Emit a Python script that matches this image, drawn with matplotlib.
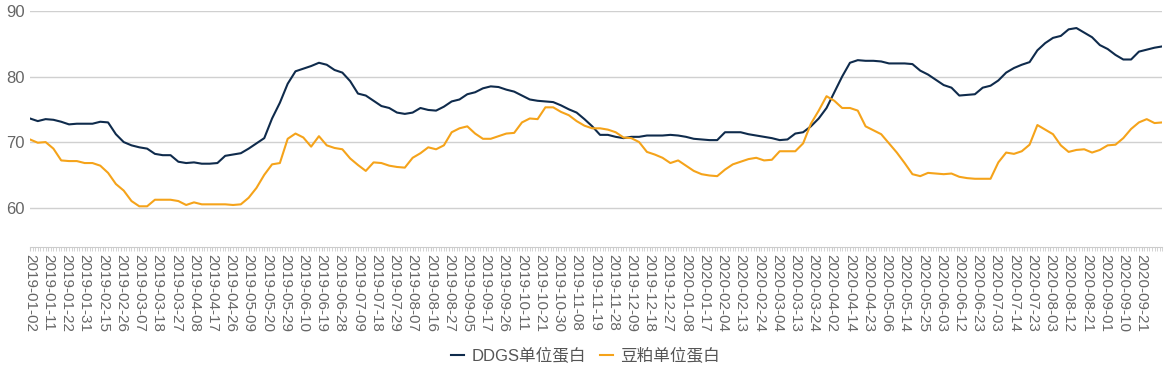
import numpy as np
import matplotlib
matplotlib.use("Agg")
import matplotlib.pyplot as plt

plt.rcParams['font.family'] = ['Liberation Sans', 'Noto Sans CJK SC', 'DejaVu Sans']

# tick labels, one every 7 trading days
tick_labels = ["2019-01-02", "2019-01-11", "2019-01-22", "2019-01-31", "2019-02-15", "2019-02-26",
               "2019-03-07", "2019-03-18", "2019-03-27", "2019-04-08", "2019-04-17", "2019-04-26",
               "2019-05-09", "2019-05-20", "2019-05-29", "2019-06-10", "2019-06-19", "2019-06-28",
               "2019-07-09", "2019-07-18", "2019-07-29", "2019-08-07", "2019-08-16", "2019-08-27",
               "2019-09-05", "2019-09-17", "2019-09-26", "2019-10-11", "2019-10-21", "2019-10-30",
               "2019-11-08", "2019-11-19", "2019-11-28", "2019-12-09", "2019-12-18", "2019-12-27",
               "2020-01-08", "2020-01-17", "2020-02-04", "2020-02-13", "2020-02-24", "2020-03-04",
               "2020-03-13", "2020-03-24", "2020-04-02", "2020-04-14", "2020-04-23", "2020-05-06",
               "2020-05-14", "2020-05-25", "2020-06-03", "2020-06-12", "2020-06-23", "2020-07-03",
               "2020-07-14", "2020-07-23", "2020-08-03", "2020-08-12", "2020-08-21", "2020-09-01",
               "2020-09-10", "2020-09-21"]
label_every = 7
n_days = 436
sample_step = 3

ddgs = [73.6, 73.2, 73.5, 73.4, 73.1, 72.7, 72.8, 72.8, 72.8, 73.1, 73.0, 71.2,
        70.0, 69.5, 69.2, 69.0, 68.2, 68.0, 68.0, 67.0, 66.8, 66.9, 66.7, 66.7,
        66.8, 67.9, 68.1, 68.3, 69.0, 69.8, 70.6, 73.6, 76.0, 78.9, 80.8, 81.2,
        81.6, 82.1, 81.8, 81.0, 80.6, 79.3, 77.4, 77.1, 76.3, 75.5, 75.2, 74.5,
        74.3, 74.5, 75.2, 74.9, 74.8, 75.4, 76.2, 76.5, 77.3, 77.6, 78.2, 78.5,
        78.4, 78.0, 77.7, 77.1, 76.5, 76.3, 76.2, 76.1, 75.6, 75.0, 74.5, 73.5, 72.4,
        71.1, 71.1, 70.8, 70.6, 70.8, 70.8, 71.0, 71.0, 71.0, 71.1, 71.0, 70.8,
        70.5, 70.4, 70.3, 70.3, 71.5, 71.5, 71.5, 71.2, 71.0, 70.8, 70.6, 70.3,
        70.4, 71.3, 71.5, 72.4, 73.6, 75.2, 77.6, 80.0, 82.1, 82.5, 82.4, 82.4,
        82.3, 82.0, 82.0, 82.0, 81.9, 80.9, 80.3, 79.5, 78.7, 78.3, 77.1, 77.2,
        77.3, 78.3, 78.6, 79.4, 80.6, 81.3, 81.8, 82.2, 84.0, 85.1, 85.9, 86.2,
        87.2, 87.4, 86.7, 86.0, 84.8, 84.2, 83.3, 82.6, 82.6, 83.8, 84.1, 84.4, 84.6]

soymeal = [70.4, 69.9, 70.0, 69.0, 67.2, 67.1, 67.1, 66.8, 66.8, 66.4, 65.3, 63.6,
           62.6, 61.0, 60.2, 60.2, 61.2, 61.2, 61.2, 61.0, 60.4, 60.8, 60.5, 60.5,
           60.5, 60.5, 60.4, 60.5, 61.5, 63.0, 65.0, 66.6, 66.8, 70.5, 71.3, 70.7,
           69.3, 70.9, 69.5, 69.1, 68.9, 67.5, 66.5, 65.6, 66.9, 66.8, 66.4, 66.2,
           66.1, 67.6, 68.3, 69.2, 68.9, 69.5, 71.5, 72.1, 72.4, 71.3, 70.5, 70.5,
           70.9, 71.3, 71.4, 73.0, 73.6, 73.5, 75.3, 75.3, 74.6, 74.1, 73.2, 72.5, 72.1,
           72.1, 71.9, 71.5, 70.7, 70.6, 70.0, 68.5, 68.1, 67.6, 66.8, 67.2, 66.4,
           65.6, 65.1, 64.9, 64.8, 65.8, 66.6, 67.0, 67.4, 67.6, 67.2, 67.3, 68.6,
           68.6, 68.6, 69.8, 72.8, 74.8, 77.0, 76.3, 75.2, 75.2, 74.8, 72.4, 71.8,
           71.2, 69.8, 68.4, 66.8, 65.1, 64.8, 65.3, 65.2, 65.1, 65.2, 64.7, 64.5,
           64.4, 64.4, 64.4, 66.9, 68.4, 68.2, 68.6, 69.6, 72.6, 71.9, 71.2, 69.5,
           68.5, 68.8, 68.9, 68.4, 68.8, 69.5, 69.6, 70.6, 72.0, 73.0, 73.5, 72.9, 73.0]

x = np.arange(len(ddgs)) * sample_step

fig = plt.figure(figsize=(11.71, 3.73), dpi=100)
ax = fig.add_axes([0.0256, 0.338, 0.967, 0.6325])

ax.plot(x, ddgs, color='#0f2b4c', lw=1.5, label='DDGS单位蛋白')
ax.plot(x, soymeal, color='#f5a31a', lw=1.5, label='豆粕单位蛋白')

ax.set_ylim(54, 90)
ax.set_yticks([60, 70, 80, 90])
ax.set_xlim(0, n_days - 1)
ax.set_xticks(np.arange(len(tick_labels)) * label_every)
ax.set_xticklabels(tick_labels, rotation=-90, fontsize=11, color='#666666')
ax.set_xticks(np.arange(n_days), minor=True)
ax.tick_params(axis='x', which='both', length=3, color='#cccccc', pad=2)
ax.tick_params(axis='y', length=0, labelsize=12, labelcolor='#666666', pad=4)
ax.grid(axis='y', color='#d0d0d0', lw=1)
ax.set_axisbelow(True)
for s in ['top', 'right', 'left']:
    ax.spines[s].set_visible(False)
ax.spines['bottom'].set_color('#cccccc')

fig.legend(loc='lower center', bbox_to_anchor=(0.5, -0.015), ncol=2, frameon=False,
           fontsize=12, handlelength=0.8, columnspacing=0.8, handletextpad=0.45,
           labelcolor='#555555')

fig.savefig('out.png', dpi=100)
